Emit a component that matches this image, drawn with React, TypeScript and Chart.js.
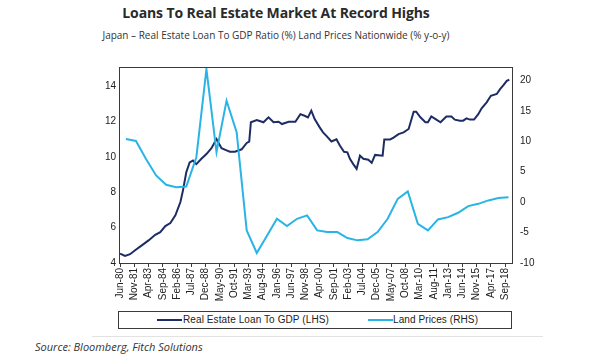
import React, { useEffect, useRef } from "react";
import { Chart, registerables } from "chart.js";

Chart.register(...registerables);

// ---- Data ----
const loanDates = [
  "1980-06", "1980-12", "1981-06", "1981-12", "1982-08", "1983-04", "1983-12", "1984-06", "1984-12", "1985-06",
  "1985-12", "1986-06", "1986-09", "1987-01", "1987-05", "1987-09", "1988-01", "1988-07", "1989-01", "1989-07",
  "1990-01", "1990-07", "1991-01", "1991-05", "1991-11", "1992-07", "1993-01", "1993-04", "1993-06", "1994-01",
  "1994-09", "1995-03", "1995-09", "1996-03", "1996-07", "1997-03", "1997-11", "1998-05", "1998-10", "1999-02",
  "1999-06", "1999-10", "2000-04", "2000-08", "2000-12", "2001-06", "2001-12", "2002-04", "2002-09", "2003-01",
  "2003-04", "2003-08", "2003-12", "2004-04", "2004-08", "2005-02", "2005-06", "2005-10", "2006-07", "2006-09",
  "2007-04", "2007-08", "2008-02", "2008-08", "2009-02", "2009-08", "2009-11", "2010-04", "2010-10", "2011-01",
  "2011-05", "2011-11", "2012-04", "2012-11", "2013-05", "2013-09", "2014-03", "2014-07", "2014-11", "2015-03",
  "2015-08", "2016-01", "2016-05", "2016-11", "2017-04", "2017-11", "2018-03", "2018-07", "2018-11", "2019-02",
];
const loanValues = [
  4.53, 4.4, 4.5, 4.72, 5.0, 5.28, 5.6, 5.75, 6.09, 6.26,
  6.7, 7.45, 8.1, 9.14, 9.7, 9.8, 9.6, 9.9, 10.17, 10.5,
  11.02, 10.5, 10.38, 10.3, 10.3, 10.44, 10.8, 10.88, 11.97, 12.1,
  11.97, 12.25, 11.97, 12.0, 11.87, 12.0, 12.0, 12.43, 12.34, 12.25,
  12.63, 12.15, 11.68, 11.4, 11.2, 10.88, 11.0, 10.65, 10.3, 10.27,
  9.9, 9.6, 9.33, 10.08, 9.9, 9.85, 9.67, 10.12, 10.08, 11.0,
  11.0, 11.1, 11.3, 11.4, 11.59, 12.57, 12.57, 12.25, 11.97, 11.97,
  12.3, 12.12, 11.97, 12.3, 12.3, 12.12, 12.06, 12.06, 12.19, 12.12,
  12.12, 12.43, 12.76, 13.1, 13.47, 13.57, 13.85, 14.07, 14.32, 14.38,
];

const landDates = [
  "1981-01", "1982-01", "1983-01", "1984-01", "1985-01", "1986-01", "1987-01", "1988-01", "1989-01", "1990-01",
  "1991-01", "1992-01", "1993-01", "1994-01", "1995-01", "1996-01", "1997-01", "1998-01", "1999-01", "2000-01",
  "2001-01", "2002-01", "2003-01", "2004-01", "2005-01", "2006-01", "2007-01", "2008-01", "2009-01", "2010-01",
  "2011-01", "2012-01", "2013-01", "2014-01", "2015-01", "2016-01", "2017-01", "2018-01", "2019-01",
];
const landValues = [
  10.38, 10.05, 7.1, 4.38, 2.84, 2.46, 2.57, 7.38, 21.85, 8.2,
  16.67, 11.48, -4.64, -8.36, -5.55, -2.74, -3.93, -2.74, -2.18, -4.64,
  -4.92, -4.92, -5.9, -6.28, -6.11, -4.92, -2.74, 0.54, 1.75, -3.56,
  -4.64, -2.84, -2.46, -1.75, -0.66, -0.28, 0.28, 0.66, 0.82,
];

const xTickLabels = [
  "Jun-80", "Nov-81", "Apr-83", "Sep-84", "Feb-86", "Jul-87", "Dec-88", "May-90", "Oct-91", "Mar-93",
  "Aug-94", "Jan-96", "Jun-97", "Nov-98", "Apr-00", "Sep-01", "Feb-03", "Jul-04", "Dec-05", "May-07",
  "Oct-08", "Mar-10", "Aug-11", "Jan-13", "Jun-14", "Nov-15", "Apr-17", "Sep-18",
];
const leftTicks = [4, 6, 8, 10, 12, 14];
const rightTicks = [-10, -5, 0, 5, 10, 15, 20];

const LOAN_LABEL = "Real Estate Loan To GDP (LHS)";
const LAND_LABEL = "Land Prices (RHS)";
const LOAN_COLOR = "#1d2d63";
const LAND_COLOR = "#2ab4e6";

const MONTHS = ["Jan", "Feb", "Mar", "Apr", "May", "Jun", "Jul", "Aug", "Sep", "Oct", "Nov", "Dec"];
// month index relative to Jun-1980
const dateToIndex = (d: string) => {
  const [y, m] = d.split("-").map(Number);
  return (y - 1980) * 12 + (m - 6);
};
const labelToIndex = (l: string) => {
  const [mon, yy] = l.split("-");
  const yn = Number(yy);
  const year = yn >= 50 ? 1900 + yn : 2000 + yn;
  return (year - 1980) * 12 + (MONTHS.indexOf(mon) + 1 - 6);
};

const framePlugin = {
  id: "frame",
  afterDraw(chart: any) {
    const { ctx, chartArea } = chart;
    ctx.save();
    ctx.strokeStyle = "#3a3a3a";
    ctx.lineWidth = 1;
    ctx.strokeRect(
      Math.round(chartArea.left) + 0.5,
      Math.round(chartArea.top) + 0.5,
      Math.round(chartArea.right - chartArea.left),
      Math.round(chartArea.bottom - chartArea.top)
    );
    ctx.restore();
  },
};

export default function App() {
  const canvasRef = useRef<HTMLCanvasElement | null>(null);

  useEffect(() => {
    if (!canvasRef.current) return;
    Chart.defaults.font.family = "'Liberation Sans', Arial, sans-serif";
    const chart = new Chart(canvasRef.current, {
      type: "line",
      data: {
        datasets: [
          {
            label: LOAN_LABEL,
            data: loanDates.map((d, i) => ({ x: dateToIndex(d), y: loanValues[i] })),
            borderColor: LOAN_COLOR,
            backgroundColor: LOAN_COLOR,
            borderWidth: 2,
            pointRadius: 0,
            tension: 0,
            yAxisID: "y",
            order: 1,
          },
          {
            label: LAND_LABEL,
            data: landDates.map((d, i) => ({ x: dateToIndex(d), y: landValues[i] })),
            borderColor: LAND_COLOR,
            backgroundColor: LAND_COLOR,
            borderWidth: 2,
            pointRadius: 0,
            tension: 0,
            yAxisID: "y1",
            order: 0,
          },
        ],
      },
      options: {
        responsive: false,
        animation: false,
        layout: { padding: { top: 67, left: 0, right: 0, bottom: 0 } },
        plugins: {
          legend: { display: false },
          tooltip: { enabled: false },
        },
        scales: {
          x: {
            type: "linear",
            min: -1.2,
            max: 467.2,
            afterBuildTicks: (scale: any) => {
              scale.ticks = xTickLabels.map((l) => ({ value: labelToIndex(l) }));
            },
            afterFit: (scale: any) => {
              scale.height = 47;
            },
            ticks: {
              autoSkip: false,
              maxRotation: 90,
              minRotation: 90,
              padding: 1,
              color: "#222",
              font: { size: 10 },
              callback: (_v: any, i: number) => xTickLabels[i],
            },
            grid: {
              display: true,
              drawOnChartArea: false,
              drawTicks: true,
              tickLength: 4,
              color: "#3a3a3a",
            },
            border: { display: false },
          },
          y: {
            type: "linear",
            position: "left",
            min: 4,
            max: 15.1,
            afterBuildTicks: (scale: any) => {
              scale.ticks = leftTicks.map((v) => ({ value: v }));
            },
            afterFit: (scale: any) => {
              scale.width = 119;
            },
            ticks: { padding: 3, color: "#222", font: { size: 10 } },
            grid: { display: false, drawTicks: false },
            border: { display: false },
          },
          y1: {
            type: "linear",
            position: "right",
            min: -10,
            max: 22.2,
            afterBuildTicks: (scale: any) => {
              scale.ticks = rightTicks.map((v) => ({ value: v }));
            },
            afterFit: (scale: any) => {
              scale.width = 88;
            },
            ticks: { padding: 8, color: "#222", font: { size: 10 } },
            grid: { display: false, drawTicks: false },
            border: { display: false },
          },
        },
      },
      plugins: [framePlugin],
    } as any);
    return () => chart.destroy();
  }, []);

  const legendText: React.CSSProperties = {
    position: "absolute",
    top: 313,
    height: 14,
    lineHeight: "14px",
    fontFamily: "'Liberation Sans', Arial, sans-serif",
    fontSize: 10,
    color: "#222",
    whiteSpace: "nowrap",
    letterSpacing: 0.1,
  };

  return (
    <div
      style={{
        position: "fixed",
        left: 0,
        top: 0,
        width: 600,
        height: 360,
        background: "#fff",
        overflow: "hidden",
      }}
    >
      <div
        style={{
          position: "absolute",
          left: 0,
          width: 552,
          top: 3,
          textAlign: "center",
          fontFamily: "'Open Sans', sans-serif",
          fontWeight: 700,
          fontSize: 14,
          lineHeight: "20px",
          letterSpacing: -0.1,
          color: "#2a2a2a",
          whiteSpace: "nowrap",
        }}
      >
        Loans To Real Estate Market At Record Highs
      </div>
      <div
        style={{
          position: "absolute",
          left: 0,
          width: 552,
          top: 27,
          textAlign: "center",
          fontFamily: "'Open Sans', sans-serif",
          fontSize: 10,
          lineHeight: "16px",
          color: "#333",
          whiteSpace: "nowrap",
        }}
      >
        Japan – Real Estate Loan To GDP Ratio (%) Land Prices Nationwide (% y-o-y)
      </div>
      <canvas
        ref={canvasRef}
        width={600}
        height={310}
        style={{ position: "absolute", left: 0, top: 0, width: 600, height: 310 }}
      />
      <div
        style={{
          position: "absolute",
          left: 118,
          top: 311,
          width: 392,
          height: 16,
          border: "1px solid #3a3a3a",
        }}
      />
      <div style={{ position: "absolute", left: 157, top: 319, width: 25, height: 2, background: LOAN_COLOR }} />
      <div style={{ ...legendText, left: 183 }}>{LOAN_LABEL}</div>
      <div style={{ position: "absolute", left: 368, top: 319, width: 25, height: 2, background: LAND_COLOR }} />
      <div style={{ ...legendText, left: 393 }}>{LAND_LABEL}</div>
      <div style={{ position: "absolute", left: 92, top: 336, width: 451, height: 1, background: "#e2e2e2" }} />
      <div
        style={{
          position: "absolute",
          left: 35,
          top: 340,
          lineHeight: "14px",
          fontFamily: "'Open Sans', sans-serif",
          fontStyle: "italic",
          fontSize: 11,
          color: "#333",
          whiteSpace: "nowrap",
        }}
      >
        Source: Bloomberg, Fitch Solutions
      </div>
    </div>
  );
}
